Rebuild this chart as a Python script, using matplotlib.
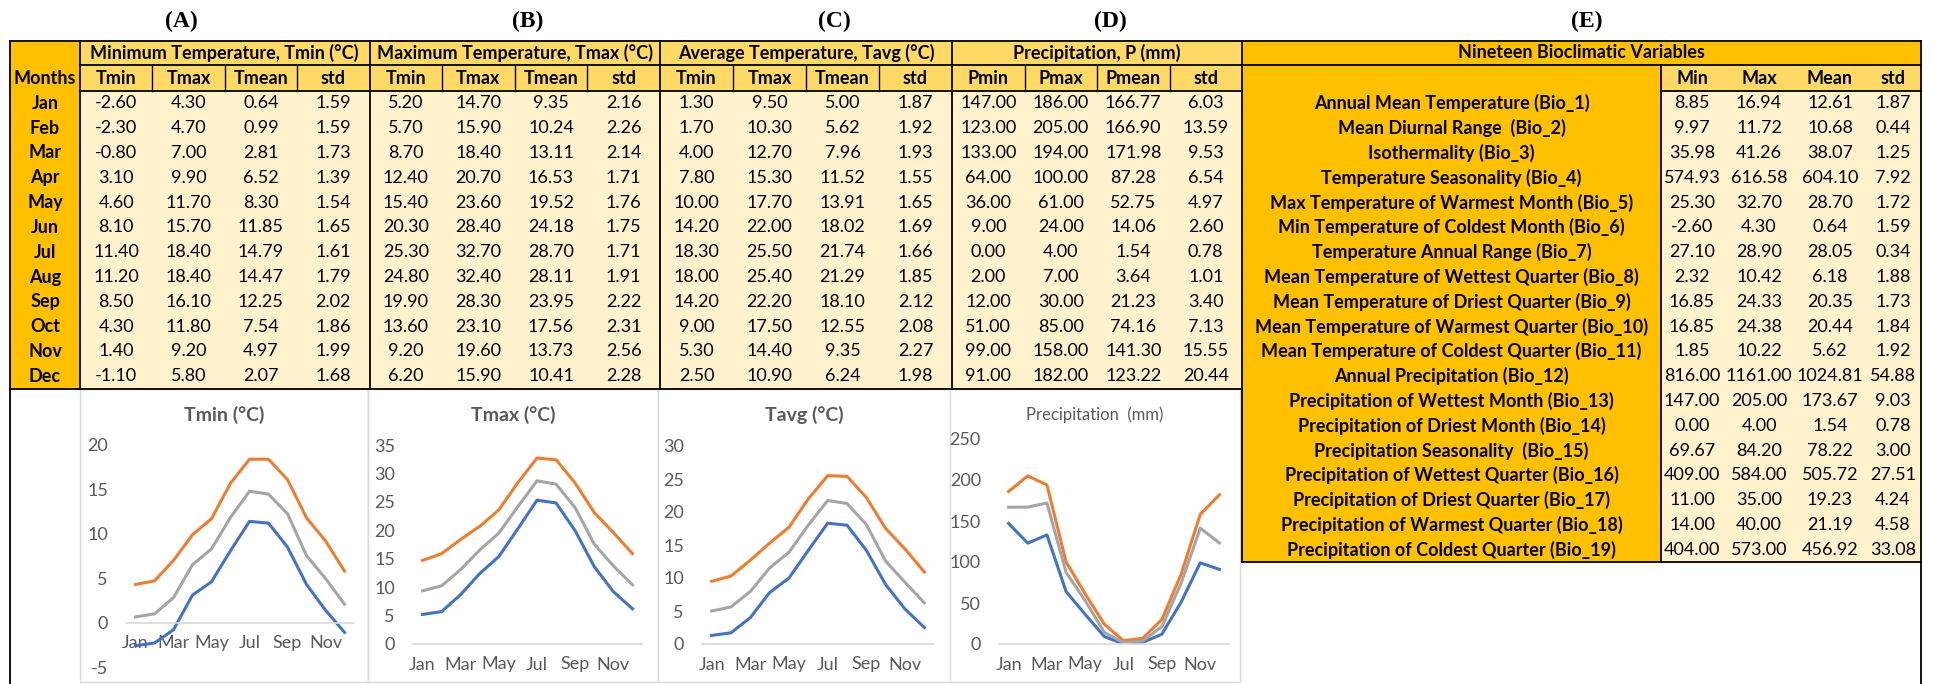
import numpy as np
import matplotlib
matplotlib.use("Agg")
import matplotlib.pyplot as plt
from matplotlib.patches import Rectangle

plt.rcParams['font.family'] = ['Lato', 'DejaVu Sans']
plt.rcParams['axes.unicode_minus'] = False

# ---- data ----
months = ["Jan", "Feb", "Mar", "Apr", "May", "Jun", "Jul", "Aug", "Sep", "Oct", "Nov", "Dec"]

tmin_min = [-2.60, -2.30, -0.80, 3.10, 4.60, 8.10, 11.40, 11.20, 8.50, 4.30, 1.40, -1.10]
tmin_max = [4.30, 4.70, 7.00, 9.90, 11.70, 15.70, 18.40, 18.40, 16.10, 11.80, 9.20, 5.80]
tmin_mean = [0.64, 0.99, 2.81, 6.52, 8.30, 11.85, 14.79, 14.47, 12.25, 7.54, 4.97, 2.07]
tmin_std = [1.59, 1.59, 1.73, 1.39, 1.54, 1.65, 1.61, 1.79, 2.02, 1.86, 1.99, 1.68]

tmax_min = [5.20, 5.70, 8.70, 12.40, 15.40, 20.30, 25.30, 24.80, 19.90, 13.60, 9.20, 6.20]
tmax_max = [14.70, 15.90, 18.40, 20.70, 23.60, 28.40, 32.70, 32.40, 28.30, 23.10, 19.60, 15.90]
tmax_mean = [9.35, 10.24, 13.11, 16.53, 19.52, 24.18, 28.70, 28.11, 23.95, 17.56, 13.73, 10.41]
tmax_std = [2.16, 2.26, 2.14, 1.71, 1.76, 1.75, 1.71, 1.91, 2.22, 2.31, 2.56, 2.28]

tavg_min = [1.30, 1.70, 4.00, 7.80, 10.00, 14.20, 18.30, 18.00, 14.20, 9.00, 5.30, 2.50]
tavg_max = [9.50, 10.30, 12.70, 15.30, 17.70, 22.00, 25.50, 25.40, 22.20, 17.50, 14.40, 10.90]
tavg_mean = [5.00, 5.62, 7.96, 11.52, 13.91, 18.02, 21.74, 21.29, 18.10, 12.55, 9.35, 6.24]
tavg_std = [1.87, 1.92, 1.93, 1.55, 1.65, 1.69, 1.66, 1.85, 2.12, 2.08, 2.27, 1.98]

p_min = [147.00, 123.00, 133.00, 64.00, 36.00, 9.00, 0.00, 2.00, 12.00, 51.00, 99.00, 91.00]
p_max = [186.00, 205.00, 194.00, 100.00, 61.00, 24.00, 4.00, 7.00, 30.00, 85.00, 158.00, 182.00]
p_mean = [166.77, 166.90, 171.98, 87.28, 52.75, 14.06, 1.54, 3.64, 21.23, 74.16, 141.30, 123.22]
p_std = [6.03, 13.59, 9.53, 6.54, 4.97, 2.60, 0.78, 1.01, 3.40, 7.13, 15.55, 20.44]

bio_names = [
    "Annual Mean Temperature (Bio_1)",
    "Mean Diurnal Range  (Bio_2)",
    "Isothermality (Bio_3)",
    "Temperature Seasonality (Bio_4)",
    "Max Temperature of Warmest Month (Bio_5)",
    "Min Temperature of Coldest Month (Bio_6)",
    "Temperature Annual Range (Bio_7)",
    "Mean Temperature of Wettest Quarter (Bio_8)",
    "Mean Temperature of Driest Quarter (Bio_9)",
    "Mean Temperature of Warmest Quarter (Bio_10)",
    "Mean Temperature of Coldest Quarter (Bio_11)",
    "Annual Precipitation (Bio_12)",
    "Precipitation of Wettest Month (Bio_13)",
    "Precipitation of Driest Month (Bio_14)",
    "Precipitation Seasonality  (Bio_15)",
    "Precipitation of Wettest Quarter (Bio_16)",
    "Precipitation of Driest Quarter (Bio_17)",
    "Precipitation of Warmest Quarter (Bio_18)",
    "Precipitation of Coldest Quarter (Bio_19)",
]
bio_min = [8.85, 9.97, 35.98, 574.93, 25.30, -2.60, 27.10, 2.32, 16.85, 16.85, 1.85,
           816.00, 147.00, 0.00, 69.67, 409.00, 11.00, 14.00, 404.00]
bio_max = [16.94, 11.72, 41.26, 616.58, 32.70, 4.30, 28.90, 10.42, 24.33, 24.38, 10.22,
           1161.00, 205.00, 4.00, 84.20, 584.00, 35.00, 40.00, 573.00]
bio_mean = [12.61, 10.68, 38.07, 604.10, 28.70, 0.64, 28.05, 6.18, 20.35, 20.44, 5.62,
            1024.81, 173.67, 1.54, 78.22, 505.72, 19.23, 21.19, 456.92]
bio_std = [1.87, 0.44, 1.25, 7.92, 1.72, 1.59, 0.34, 1.88, 1.73, 1.84, 1.92,
           54.88, 9.03, 0.78, 3.00, 27.51, 4.24, 4.58, 33.08]

groups = [
    ("Minimum Temperature, Tmin (°C)", ["Tmin", "Tmax", "Tmean", "std"], [tmin_min, tmin_max, tmin_mean, tmin_std]),
    ("Maximum Temperature, Tmax (°C)", ["Tmin", "Tmax", "Tmean", "std"], [tmax_min, tmax_max, tmax_mean, tmax_std]),
    ("Average Temperature, Tavg (°C)", ["Tmin", "Tmax", "Tmean", "std"], [tavg_min, tavg_max, tavg_mean, tavg_std]),
    ("Precipitation, P (mm)", ["Pmin", "Pmax", "Pmean", "std"], [p_min, p_max, p_mean, p_std]),
]
bio_heads = ["Min", "Max", "Mean", "std"]
panel_letters = ["(A)", "(B)", "(C)", "(D)", "(E)"]

# ---- colours ----
GOLD = "#FFC000"
HEAD = "#FFD966"
CELL = "#FFF2CC"
BLUE, ORANGE, GREY = "#4472C4", "#ED7D31", "#A5A5A5"
AXTXT = "#595959"

# ---- canvas in pixel coordinates ----
W, H = 1934, 684
fig = plt.figure(figsize=(W / 100, H / 100), dpi=100)
bg = fig.add_axes([0, 0, 1, 1])
bg.set_xlim(0, W)
bg.set_ylim(H, 0)
bg.axis('off')


def box(x0, y0, x1, y1, color, edge='none', lw=0):
    bg.add_patch(Rectangle((x0, y0), x1 - x0, y1 - y0, facecolor=color,
                           edgecolor=edge, lw=lw, zorder=1))


def hl(y, x0, x1, color='black', lw=1.3):
    bg.plot([x0, x1], [y, y], color=color, lw=lw, zorder=3, solid_capstyle='projecting')


def vl(x, y0, y1, color='black', lw=1.3):
    bg.plot([x, x], [y0, y1], color=color, lw=lw, zorder=3, solid_capstyle='projecting')


top, r1, r2, rh = 41, 65, 91, 24.8
left, month_r, right = 10, 80, 1921
gx = [80, 369.5, 660, 952, 1242]
e_lab_r = 1661
bottom_l = r2 + 12 * rh
bottom_e = r2 + 19 * rh
FS = 13

# fills
box(left, top, month_r, bottom_l, GOLD)
box(gx[0], top, gx[-1], r2, HEAD)
box(gx[0], r2, gx[-1], bottom_l, CELL)
box(gx[-1], top, right, r1, GOLD)
box(gx[-1], r1, e_lab_r, bottom_e, GOLD)
box(e_lab_r, r1, right, r2, HEAD)
box(e_lab_r, r2, right, bottom_e, CELL)

# chart panels
panel_x = [80, 368, 658, 950, 1240]
for i in range(4):
    box(panel_x[i], bottom_l, panel_x[i + 1], 682, 'white', edge='#D9D9D9', lw=1)

# left table text
bg.text((left + month_r) / 2, (r1 + r2) / 2 + 1, "Months", ha='center', va='center', fontsize=FS, fontweight='bold')
for i, m in enumerate(months):
    bg.text((left + month_r) / 2, r2 + rh * (i + 0.5), m, ha='center', va='center', fontsize=FS, fontweight='bold')

for g, (title, heads, cols) in enumerate(groups):
    x0, x1 = gx[g], gx[g + 1]
    bg.text((x0 + x1) / 2, (top + r1) / 2, title, ha='center', va='center', fontsize=FS, fontweight='bold')
    cw = (x1 - x0) / 4
    for j in range(4):
        cx = x0 + cw * (j + 0.5)
        bg.text(cx, (r1 + r2) / 2, heads[j], ha='center', va='center', fontsize=FS, fontweight='bold')
        for i, v in enumerate(cols[j]):
            bg.text(cx, r2 + rh * (i + 0.5), f"{v:.2f}", ha='center', va='center', fontsize=FS)
        if j > 0:
            vl(x0 + cw * j, r1, r2, lw=1)

# bioclim table text
bg.text((gx[-1] + right) / 2, (top + r1) / 2, "Nineteen Bioclimatic Variables", ha='center', va='center',
        fontsize=FS, fontweight='bold')
bio_cx = [1692, 1759, 1830, 1893]
bio_cols = [bio_min, bio_max, bio_mean, bio_std]
for j in range(4):
    bg.text(bio_cx[j], (r1 + r2) / 2, bio_heads[j], ha='center', va='center', fontsize=FS, fontweight='bold')
    for i, v in enumerate(bio_cols[j]):
        bg.text(bio_cx[j], r2 + rh * (i + 0.5), f"{v:.2f}", ha='center', va='center', fontsize=FS)
for i, name in enumerate(bio_names):
    bg.text((gx[-1] + e_lab_r) / 2, r2 + rh * (i + 0.5), name, ha='center', va='center', fontsize=FS, fontweight='bold')

# borders
hl(top, left, right)
vl(left, top, H)
vl(right, top, H)
vl(month_r, top, bottom_l)
hl(r1, gx[0], right)
hl(r2, gx[0], gx[-1])
hl(r2, e_lab_r, right)
for x in gx[1:-1]:
    vl(x, top, bottom_l)
vl(gx[-1], top, bottom_e)
hl(bottom_l, left, gx[-1])
vl(e_lab_r, r1, bottom_e)
hl(bottom_e, gx[-1], right)

# panel letters
letter_x = [181, 528, 834, 1110, 1587]
for lx, lab in zip(letter_x, panel_letters):
    bg.text(lx, 21, lab, ha='center', va='center', fontsize=17, fontweight='bold', family='Liberation Serif')

# ---- charts ----
charts = [
    ("Tmin (°C)", groups[0][2], (-5, 20), 5, (126, 445, 354, 667), 14),
    ("Tmax (°C)", groups[1][2], (0, 35), 5, (413, 445, 642, 644), 14),
    ("Tavg (°C)", groups[2][2], (0, 30), 5, (702, 446, 934, 644), 14),
    ("Precipitation  (mm)", groups[3][2], (0, 250), 50, (999, 439, 1229, 644), 12),
]
x = np.arange(12)
for k, (title, cols, ylim, step, (x0, y0, x1, y1), tfs) in enumerate(charts):
    ax = fig.add_axes([x0 / W, 1 - y1 / H, (x1 - x0) / W, (y1 - y0) / H])
    ax.patch.set_alpha(0)
    ax.plot(x, cols[0], color=BLUE, lw=2.2, solid_joinstyle='round')
    ax.plot(x, cols[1], color=ORANGE, lw=2.2, solid_joinstyle='round')
    ax.plot(x, cols[2], color=GREY, lw=2.2, solid_joinstyle='round')
    ax.set_xlim(-0.5, 11.5)
    ax.set_ylim(*ylim)
    ax.set_yticks(np.arange(ylim[0], ylim[1] + step, step))
    ax.set_xticks(x[::2])
    ax.set_xticklabels(months[::2])
    for s in ['top', 'right', 'left']:
        ax.spines[s].set_visible(False)
    ax.spines['bottom'].set_position(('data', 0))
    ax.spines['bottom'].set_color('#D9D9D9')
    ax.spines['bottom'].set_linewidth(1.2)
    ax.tick_params(axis='y', length=0, pad=13, labelsize=13, labelcolor=AXTXT)
    ax.tick_params(axis='x', length=0, pad=9, labelsize=13, labelcolor=AXTXT)
    cx = (panel_x[k] + panel_x[k + 1]) / 2
    bg.text(cx, 415, title, ha='center', va='center', fontsize=tfs, color=AXTXT,
            fontweight='bold' if k < 3 else 'normal')

fig.savefig("out.png", dpi=100)
